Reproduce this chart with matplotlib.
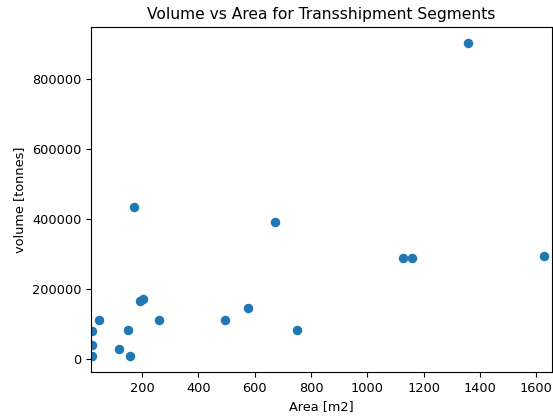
import matplotlib
matplotlib.use('Agg')
import matplotlib.pyplot as plt

# Area [m2] and volume [tonnes] of the transshipment segments
area = [22, 22, 22, 46, 117, 150, 158, 194, 202, 261,
        493, 578, 749, 171, 673, 1127, 1158, 1627, 1359]
volume = [79000, 40000, 7400, 111000, 28600, 81000, 7400, 164600, 172000, 111000,
          111000, 146600, 83700, 434000, 391000, 289000, 289000, 295000, 903000]

fig, ax = plt.subplots(figsize=(5.53, 4.16), dpi=100)
fig.subplots_adjust(left=0.165, right=0.998, top=0.935, bottom=0.106)

ax.scatter(area, volume, s=34, color='#1f77b4')
ax.set_xlim(20, 1655)

ax.set_title('Volume vs Area for Transshipment Segments', fontsize=11.2)
ax.set_xlabel('Area [m2]', fontsize=9.3)
ax.set_ylabel('volume [tonnes]', fontsize=9.3)
ax.tick_params(labelsize=9.3)

plt.savefig('out.png', dpi=100)
